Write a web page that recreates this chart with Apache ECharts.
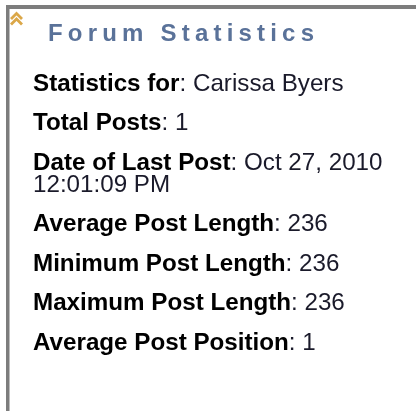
<!DOCTYPE html>
<html><head><meta charset="utf-8">
<script src="https://cdn.jsdelivr.net/npm/echarts@6/dist/echarts.min.js"></script>
<style>html,body{margin:0;padding:0;background:#fff}#c{width:416px;height:411px}</style>
</head><body><div id="c"></div>
<script>
const titleText = 'Forum Statistics';
const labels = ['Statistics for', 'Total Posts', 'Date of Last Post', 'Average Post Length', 'Minimum Post Length', 'Maximum Post Length', 'Average Post Position'];
const values = ['Carissa Byers', '1', 'Oct 27, 2010 12:01:09 PM', '236', '236', '236', '1'];

const FONT = "'Liberation Sans', Arial, Helvetica, sans-serif";
const chart = echarts.init(document.getElementById('c'), null, {renderer: 'canvas'});

const ctx = document.createElement('canvas').getContext('2d');
const TITLE_SIZE = 24;
ctx.font = 'bold ' + TITLE_SIZE + 'px ' + FONT;
let titleW = 0;
for (const ch of titleText) titleW += ctx.measureText(ch).width;
const spacing = (266 - titleW) / (titleText.length - 1);
let tx = 48;
const els = [];
// border
els.push({type: 'rect', shape: {x: 6, y: 5, width: 410, height: 4}, style: {fill: '#7d7d7d'}});
els.push({type: 'rect', shape: {x: 6, y: 5, width: 3.5, height: 406}, style: {fill: '#7d7d7d'}});
// chevron icon
els.push({type: 'polyline', shape: {points: [[11, 19], [16.5, 13.5], [22, 19]]}, style: {stroke: '#dba748', lineWidth: 2.8, fill: null}});
els.push({type: 'polyline', shape: {points: [[11, 24.5], [16.5, 19], [22, 24.5]]}, style: {stroke: '#dba748', lineWidth: 2.8, fill: null}});
// title with letter spacing
for (const ch of titleText) {
  els.push({type: 'text', x: tx, y: 34, style: {text: ch, fontSize: TITLE_SIZE, fontWeight: 'bold', fontFamily: FONT, fill: '#5a7299', verticalAlign: 'middle'}});
  tx += ctx.measureText(ch).width + spacing;
}
// rows
const ROW_STEP = 39.5, LINE_H = 22, FS = 24.2, WRAP_W = 370;
function wrapValue(lab, val) {
  ctx.font = 'bold ' + FS + 'px ' + FONT;
  const lw = ctx.measureText(lab).width;
  ctx.font = FS + 'px ' + FONT;
  const words = val.split(' ');
  let first = ': ', k = 0;
  while (k < words.length) {
    const cand = first + (k ? ' ' : '') + words[k];
    if (k > 0 && lw + ctx.measureText(cand).width > WRAP_W) break;
    first = cand; k++;
  }
  return {first: first, rest: words.slice(k).join(' ')};
}
let y = 84;
labels.forEach((lab, i) => {
  const w = wrapValue(lab, values[i]);
  els.push({type: 'text', x: 33, y: y - LINE_H / 2, style: {
    text: '{b|' + lab + '}{v|' + w.first + '}' + (w.rest ? '\n{v|' + w.rest + '}' : ''),
    verticalAlign: 'top',
    rich: {
      b: {fontWeight: 'bold', fontSize: FS, fontFamily: FONT, fill: '#000', lineHeight: LINE_H},
      v: {fontSize: FS, fontFamily: FONT, fill: '#1a1a2a', lineHeight: LINE_H}
    }
  }});
  y += ROW_STEP + (w.rest ? LINE_H : 0);
});

chart.setOption({backgroundColor: '#fff', graphic: {elements: els}});
</script></body></html>
